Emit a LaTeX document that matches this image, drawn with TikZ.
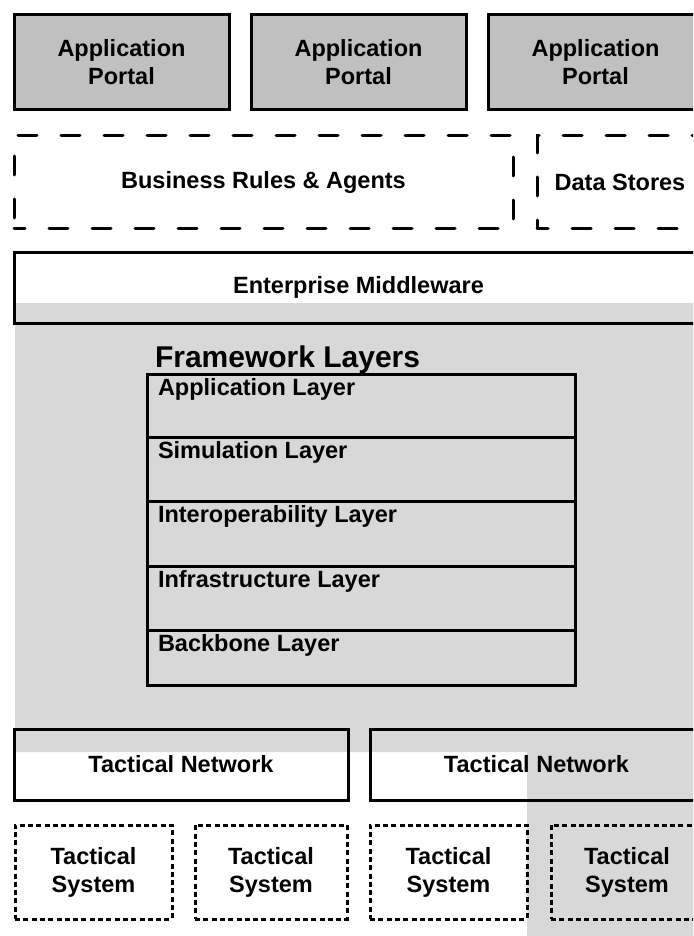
\documentclass[tikz,border=0pt]{standalone}
\usepackage{fontspec}
\setmainfont{Liberation Sans}
\definecolor{portalgray}{RGB}{192,192,192}
\definecolor{bggray}{RGB}{216,216,216}
\begin{document}
\begin{tikzpicture}[x=1pt,y=-1pt,
  every node/.style={font=\bfseries\fontsize{23.5}{28}\selectfont, inner sep=0pt, outer sep=0pt, align=center},
  box/.style={draw, line width=3pt, rectangle},
  portal/.style={box, fill=portalgray},
  dashbox/.style={draw, line width=3pt, rectangle, dash pattern=on 19pt off 24pt, dash phase=8pt, line cap=round},
  dotbox/.style={draw, line width=3pt, rectangle, dash pattern=on 5pt off 3.3pt},
  layerbox/.style={draw, line width=3pt, rectangle, minimum width=428},
  layerlabel/.style={anchor=base west}]
\useasboundingbox (0,0) rectangle (693,936);
\clip (0,0) rectangle (693,936);
% gray background region
\fill[bggray] (15,303) -- (710,303) -- (710,940) -- (527,940) -- (527,752) -- (15,752) -- cycle;
% application portals
\node[portal, minimum width=215, minimum height=95] (p1) at (121.5,62.5) {Application\\Portal};
\node[portal, minimum width=215, minimum height=95] (p2) at (358.5,62.5) {Application\\Portal};
\node[portal, minimum width=215, minimum height=95] (p3) at (595.5,62.5) {Application\\Portal};
% business rules / data stores
\node[dashbox, minimum width=499, minimum height=92] (br) at (263.5,182) {Business Rules \& Agents};
\node[dashbox, minimum width=166, minimum height=92] (ds) at (620,182) {Data Stores};
% enterprise middleware
\node[box, minimum width=689, minimum height=71] (em) at (358.5,287.5) {Enterprise Middleware};
% framework layers
\node[anchor=base west, font=\bfseries\fontsize{30}{34}\selectfont] (fw) at (155,367) {Framework Layers};
\node[layerbox, minimum height=63] (l1) at (361,405.5) {};
\node[layerbox, minimum height=64] (l2) at (361,469) {};
\node[layerbox, minimum height=65] (l3) at (361,533.5) {};
\node[layerbox, minimum height=64] (l4) at (361,598) {};
\node[layerbox, minimum height=55] (l5) at (361,657.5) {};
\node[layerlabel] (t1) at (158,395) {Application Layer};
\node[layerlabel] (t2) at (158,458) {Simulation Layer};
\node[layerlabel] (t3) at (158,522) {Interoperability Layer};
\node[layerlabel] (t4) at (158,587) {Infrastructure Layer};
\node[layerlabel] (t5) at (158,651) {Backbone Layer};
% tactical networks
\node[box, minimum width=334, minimum height=71] (tn1) at (181,764.5) {Tactical Network};
\node[box, minimum width=333, minimum height=71] (tn2) at (536.5,764.5) {Tactical Network};
% tactical systems
\node[dotbox, minimum width=157, minimum height=94] (ts1) at (93.5,872) {Tactical\\System};
\node[dotbox, minimum width=152, minimum height=94] (ts2) at (271,872) {Tactical\\System};
\node[dotbox, minimum width=157, minimum height=94] (ts3) at (448.5,872) {Tactical\\System};
\node[dotbox, minimum width=152, minimum height=94] (ts4) at (627,872) {Tactical\\System};
\end{tikzpicture}
\end{document}
